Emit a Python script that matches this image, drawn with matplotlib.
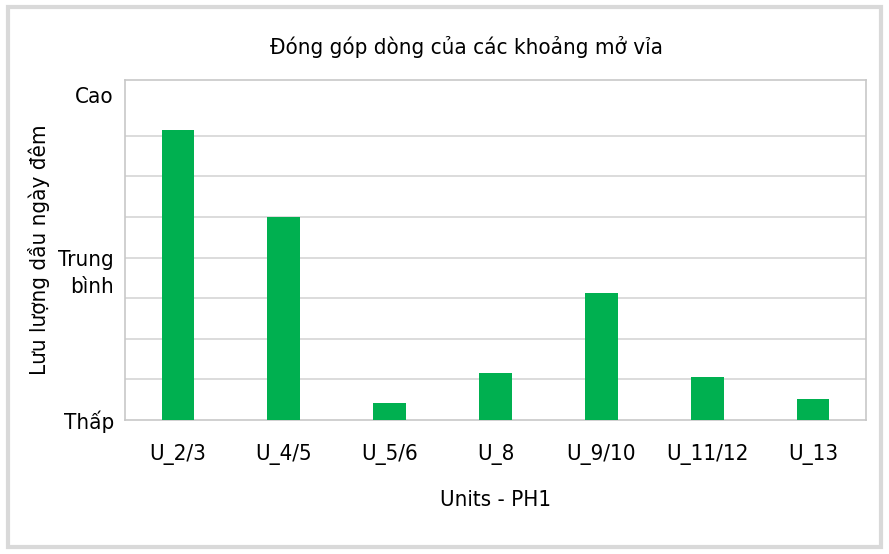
import matplotlib.pyplot as plt
from matplotlib.patches import Rectangle

plt.rcParams['font.family'] = ['DejaVu Sans']
plt.rcParams['font.stretch'] = 'condensed'

# Data (relative levels, 0 = Thấp, 8 = Cao)
units = ['U_2/3', 'U_4/5', 'U_5/6', 'U_8', 'U_9/10', 'U_11/12', 'U_13']
flow = [7.15, 5.0, 0.43, 1.15, 3.13, 1.05, 0.52]
level_ticks = [0, 3.75, 8]
level_labels = ['Thấp', 'Trung\nbình', 'Cao']

fig = plt.figure(figsize=(8.89, 5.54), dpi=100)
ax = fig.add_axes([125 / 889, 1 - 420 / 554, 741 / 889, 340 / 554])

x = range(len(units))
ax.bar(x, flow, width=0.31, color='#00B050', zorder=3)

# Gridlines and axis ranges
ax.set_ylim(0, 8.37)
ax.set_xlim(-0.5, len(units) - 0.5)
ax.set_yticks(range(0, 9), minor=True)
ax.grid(True, axis='y', which='minor', color='#d9d9d9', linewidth=1.3, zorder=0)

ax.set_yticks(level_ticks)
ax.set_yticklabels(level_labels, fontsize=16, ha='right', linespacing=1.45)
ax.set_xticks(list(x))
ax.set_xticklabels(units, fontsize=16)
ax.tick_params(which='both', length=0, pad=8)
ax.tick_params(axis='x', pad=17)

for spine in ax.spines.values():
    spine.set_color('#c8c8c8')
    spine.set_linewidth(1.2)

ax.set_xlabel('Units - PH1', fontsize=16, labelpad=18)
ax.set_ylabel('Lưu lượng dầu ngày đêm', fontsize=16)
ax.yaxis.set_label_coords(-75 / 741, 0.5)

fig.text(467 / 889, 1 - 47 / 554, 'Đóng góp dòng của các khoảng mở vỉa',
         fontsize=16, ha='center', va='center')

# Outer frame like the original picture
fig.patches.append(Rectangle((8 / 889, 7 / 554), 873 / 889, 540 / 554,
                             transform=fig.transFigure, fill=False,
                             edgecolor='#d9d9d9', linewidth=3))

plt.savefig('out.png', dpi=100)
